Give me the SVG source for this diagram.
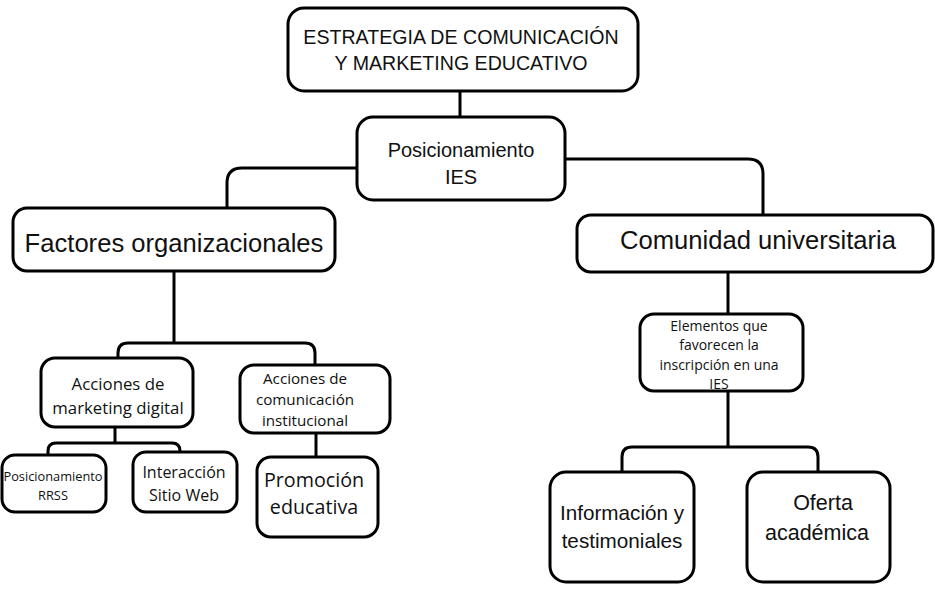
<svg xmlns="http://www.w3.org/2000/svg" width="935" height="602" viewBox="0 0 935 602">
<style>
.box{fill:#fff;stroke:#000;stroke-width:3}
.ln{fill:none;stroke:#000;stroke-width:3}
.a{font-family:"Liberation Sans",Arial,sans-serif;fill:#111;text-anchor:middle}
.o{font-family:"Open Sans","Noto Sans",sans-serif;fill:#111;text-anchor:middle}
</style>
<rect width="935" height="602" fill="#fff"/>
<g id="connectors">
<path class="ln" d="M460 91V118"/>
<path class="ln" d="M357 168H242Q227 168 227 183V208"/>
<path class="ln" d="M565 159H748Q763 159 763 174V214"/>
<path class="ln" d="M174 271V343"/>
<path class="ln" d="M118 358V353Q118 343 128 343H305Q315 343 315 353V365"/>
<path class="ln" d="M115 427V443"/>
<path class="ln" d="M48 455V451Q48 443 56 443H172Q180 443 180 451V453"/>
<path class="ln" d="M316 433V457"/>
<path class="ln" d="M728 272V314"/>
<path class="ln" d="M728 391V447"/>
<path class="ln" d="M622 472V457Q622 447 632 447H808Q818 447 818 457V472"/>
</g>
<g id="n-estrategia">
<rect class="box" x="288" y="8" width="350" height="83" rx="16"/>
<text class="a" font-size="19.6" x="461" y="44">ESTRATEGIA DE COMUNICACIÓN</text>
<text class="a" font-size="19.6" x="461" y="70">Y MARKETING EDUCATIVO</text>
</g>
<g id="n-posicionamiento">
<rect class="box" x="357" y="117" width="208" height="83" rx="16"/>
<text class="a" font-size="20" x="461" y="157">Posicionamiento</text>
<text class="a" font-size="20" x="461" y="184">IES</text>
</g>
<g id="n-factores">
<rect class="box" x="13" y="208" width="322" height="63" rx="14"/>
<text class="a" font-size="25.6" x="174" y="252">Factores organizacionales</text>
</g>
<g id="n-comunidad">
<rect class="box" x="577" y="215" width="356" height="57" rx="14"/>
<text class="a" font-size="25.6" x="758" y="249">Comunidad universitaria</text>
</g>
<g id="n-marketing">
<rect class="box" x="41" y="358" width="152" height="69" rx="14"/>
<text class="o" font-size="16.8" x="118" y="390">Acciones de</text>
<text class="o" font-size="16.8" x="118" y="414">marketing digital</text>
</g>
<g id="n-comunicacion">
<rect class="box" x="240" y="365" width="150" height="68" rx="14"/>
<text class="o" font-size="15.2" x="305" y="384">Acciones de</text>
<text class="o" font-size="15.2" x="305" y="405">comunicación</text>
<text class="o" font-size="15.2" x="305" y="426">institucional</text>
</g>
<g id="n-rrss">
<rect class="box" x="2" y="455" width="104" height="57" rx="13"/>
<text class="o" font-size="12.8" x="53" y="481">Posicionamiento</text>
<text class="o" font-size="12.8" x="53" y="500">RRSS</text>
</g>
<g id="n-web">
<rect class="box" x="133" y="452" width="104" height="60" rx="13"/>
<text class="o" font-size="16" x="184" y="478">Interacción</text>
<text class="o" font-size="16" x="184" y="501">Sitio Web</text>
</g>
<g id="n-promocion">
<rect class="box" x="257" y="457" width="121" height="80" rx="14"/>
<text class="o" font-size="19.7" x="314" y="487">Promoción</text>
<text class="o" font-size="19.7" x="314" y="514">educativa</text>
</g>
<g id="n-elementos">
<rect class="box" x="640" y="314" width="163" height="77" rx="14"/>
<text class="o" font-size="14" x="719" y="331">Elementos que</text>
<text class="o" font-size="14" x="719" y="350">favorecen la</text>
<text class="o" font-size="14" x="719" y="370">inscripción en una</text>
<text class="o" font-size="14" x="719" y="389">IES</text>
</g>
<g id="n-informacion">
<rect class="box" x="550" y="472" width="144" height="110" rx="16"/>
<text class="a" font-size="20.7" x="622" y="520">Información y</text>
<text class="a" font-size="20.7" x="622" y="548">testimoniales</text>
</g>
<g id="n-oferta">
<rect class="box" x="747" y="472" width="143" height="110" rx="16"/>
<text class="a" font-size="21.5" x="823" y="510">Oferta</text>
<text class="a" font-size="21.5" x="817" y="540">académica</text>
</g>
</svg>
